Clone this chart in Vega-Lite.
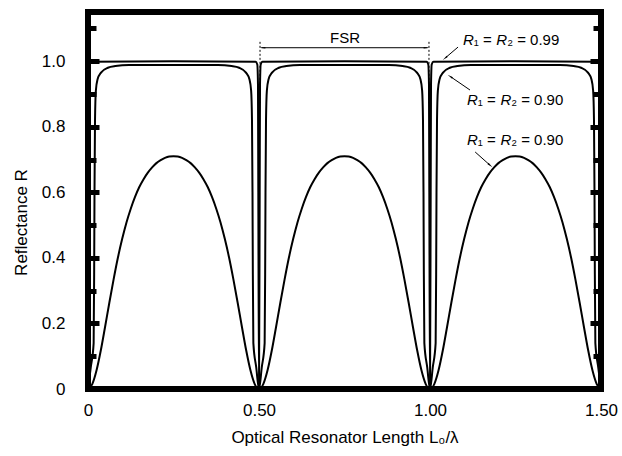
{
  "$schema": "https://vega.github.io/schema/vega-lite/v6.json",
  "width": 513,
  "height": 377,
  "autosize": "none",
  "padding": {"left": 88, "top": 12, "right": 21, "bottom": 67},
  "background": "white",
  "config": {
    "view": {"stroke": "black", "strokeWidth": 6},
    "font": "Liberation Sans",
    "axis": {"grid": false, "domain": false, "labelColor": "#000000", "titleColor": "#000000", "tickColor": "#000000", "labelFont": "Liberation Sans", "titleFont": "Liberation Sans, DejaVu Sans", "titleFontWeight": "normal"}
  },
  "datasets": {
    "curves": [
      {"x":0,"R":0,"c":"a"},{"x":0.002,"R":0.6,"c":"a"},{"x":0.003,"R":0.93,"c":"a"},{"x":0.005,"R":0.99,"c":"a"},{"x":0.01,"R":0.998,"c":"a"},{"x":0.25,"R":1,"c":"a"},{"x":0.49,"R":0.998,"c":"a"},{"x":0.495,"R":0.99,"c":"a"},{"x":0.497,"R":0.93,"c":"a"},{"x":0.498,"R":0.6,"c":"a"},{"x":0.5,"R":0,"c":"a"},{"x":0.502,"R":0.6,"c":"a"},{"x":0.503,"R":0.93,"c":"a"},{"x":0.505,"R":0.99,"c":"a"},{"x":0.51,"R":0.998,"c":"a"},{"x":0.75,"R":1,"c":"a"},{"x":0.99,"R":0.998,"c":"a"},{"x":0.995,"R":0.99,"c":"a"},{"x":0.997,"R":0.93,"c":"a"},{"x":0.998,"R":0.6,"c":"a"},{"x":1,"R":0,"c":"a"},{"x":1.002,"R":0.6,"c":"a"},{"x":1.003,"R":0.93,"c":"a"},{"x":1.005,"R":0.99,"c":"a"},{"x":1.01,"R":0.998,"c":"a"},{"x":1.25,"R":1,"c":"a"},{"x":1.49,"R":0.998,"c":"a"},{"x":1.495,"R":0.99,"c":"a"},{"x":1.497,"R":0.93,"c":"a"},{"x":1.498,"R":0.6,"c":"a"},{"x":1.5,"R":0,"c":"a"},

      {"x":0,"R":0,"c":"b"},{"x":0.008,"R":0.065,"c":"b"},{"x":0.0165,"R":0.14,"c":"b"},{"x":0.018,"R":0.35,"c":"b"},{"x":0.019,"R":0.6,"c":"b"},{"x":0.0205,"R":0.82,"c":"b"},{"x":0.023,"R":0.91,"c":"b"},{"x":0.028,"R":0.945,"c":"b"},{"x":0.038,"R":0.965,"c":"b"},{"x":0.058,"R":0.98,"c":"b"},{"x":0.08,"R":0.985,"c":"b"},{"x":0.12,"R":0.988,"c":"b"},{"x":0.25,"R":0.988,"c":"b"},
      {"x":0.38,"R":0.988,"c":"b"},{"x":0.42,"R":0.985,"c":"b"},{"x":0.442,"R":0.98,"c":"b"},{"x":0.462,"R":0.965,"c":"b"},{"x":0.472,"R":0.945,"c":"b"},{"x":0.477,"R":0.91,"c":"b"},{"x":0.4795,"R":0.82,"c":"b"},{"x":0.481,"R":0.6,"c":"b"},{"x":0.482,"R":0.35,"c":"b"},{"x":0.4835,"R":0.14,"c":"b"},{"x":0.492,"R":0.065,"c":"b"},{"x":0.5,"R":0,"c":"b"},
      {"x":0.508,"R":0.065,"c":"b"},{"x":0.5165,"R":0.14,"c":"b"},{"x":0.518,"R":0.35,"c":"b"},{"x":0.519,"R":0.6,"c":"b"},{"x":0.5205,"R":0.82,"c":"b"},{"x":0.523,"R":0.91,"c":"b"},{"x":0.528,"R":0.945,"c":"b"},{"x":0.538,"R":0.965,"c":"b"},{"x":0.558,"R":0.98,"c":"b"},{"x":0.58,"R":0.985,"c":"b"},{"x":0.62,"R":0.988,"c":"b"},{"x":0.75,"R":0.988,"c":"b"},
      {"x":0.88,"R":0.988,"c":"b"},{"x":0.92,"R":0.985,"c":"b"},{"x":0.942,"R":0.98,"c":"b"},{"x":0.962,"R":0.965,"c":"b"},{"x":0.972,"R":0.945,"c":"b"},{"x":0.977,"R":0.91,"c":"b"},{"x":0.9795,"R":0.82,"c":"b"},{"x":0.981,"R":0.6,"c":"b"},{"x":0.982,"R":0.35,"c":"b"},{"x":0.9835,"R":0.14,"c":"b"},{"x":0.992,"R":0.065,"c":"b"},{"x":1.0,"R":0,"c":"b"},
      {"x":1.008,"R":0.065,"c":"b"},{"x":1.0165,"R":0.14,"c":"b"},{"x":1.018,"R":0.35,"c":"b"},{"x":1.019,"R":0.6,"c":"b"},{"x":1.0205,"R":0.82,"c":"b"},{"x":1.023,"R":0.91,"c":"b"},{"x":1.028,"R":0.945,"c":"b"},{"x":1.038,"R":0.965,"c":"b"},{"x":1.058,"R":0.98,"c":"b"},{"x":1.08,"R":0.985,"c":"b"},{"x":1.12,"R":0.988,"c":"b"},{"x":1.25,"R":0.988,"c":"b"},
      {"x":1.38,"R":0.988,"c":"b"},{"x":1.42,"R":0.985,"c":"b"},{"x":1.442,"R":0.98,"c":"b"},{"x":1.462,"R":0.965,"c":"b"},{"x":1.472,"R":0.945,"c":"b"},{"x":1.477,"R":0.91,"c":"b"},{"x":1.4795,"R":0.82,"c":"b"},{"x":1.481,"R":0.6,"c":"b"},{"x":1.482,"R":0.35,"c":"b"},{"x":1.4835,"R":0.14,"c":"b"},{"x":1.492,"R":0.065,"c":"b"},{"x":1.5,"R":0,"c":"b"},

      {"x":0,"R":0,"c":"c"},{"x":0.0125,"R":0.015,"c":"c"},{"x":0.025,"R":0.057,"c":"c"},{"x":0.0375,"R":0.118,"c":"c"},{"x":0.05,"R":0.19,"c":"c"},{"x":0.0625,"R":0.264,"c":"c"},{"x":0.075,"R":0.335,"c":"c"},{"x":0.0875,"R":0.401,"c":"c"},{"x":0.1,"R":0.458,"c":"c"},{"x":0.1125,"R":0.508,"c":"c"},{"x":0.125,"R":0.55,"c":"c"},{"x":0.1375,"R":0.586,"c":"c"},{"x":0.15,"R":0.616,"c":"c"},{"x":0.1625,"R":0.64,"c":"c"},{"x":0.175,"R":0.66,"c":"c"},{"x":0.1875,"R":0.676,"c":"c"},{"x":0.2,"R":0.689,"c":"c"},{"x":0.2125,"R":0.698,"c":"c"},{"x":0.225,"R":0.705,"c":"c"},{"x":0.2375,"R":0.709,"c":"c"},{"x":0.25,"R":0.71,"c":"c"},{"x":0.2625,"R":0.709,"c":"c"},{"x":0.275,"R":0.705,"c":"c"},{"x":0.2875,"R":0.698,"c":"c"},{"x":0.3,"R":0.689,"c":"c"},{"x":0.3125,"R":0.676,"c":"c"},{"x":0.325,"R":0.66,"c":"c"},{"x":0.3375,"R":0.64,"c":"c"},{"x":0.35,"R":0.616,"c":"c"},{"x":0.3625,"R":0.586,"c":"c"},{"x":0.375,"R":0.55,"c":"c"},{"x":0.3875,"R":0.508,"c":"c"},{"x":0.4,"R":0.458,"c":"c"},{"x":0.4125,"R":0.401,"c":"c"},{"x":0.425,"R":0.335,"c":"c"},{"x":0.4375,"R":0.264,"c":"c"},{"x":0.45,"R":0.19,"c":"c"},{"x":0.4625,"R":0.118,"c":"c"},{"x":0.475,"R":0.057,"c":"c"},{"x":0.4875,"R":0.015,"c":"c"},{"x":0.5,"R":0,"c":"c"},
      {"x":0.5125,"R":0.015,"c":"c"},{"x":0.525,"R":0.057,"c":"c"},{"x":0.5375,"R":0.118,"c":"c"},{"x":0.55,"R":0.19,"c":"c"},{"x":0.5625,"R":0.264,"c":"c"},{"x":0.575,"R":0.335,"c":"c"},{"x":0.5875,"R":0.401,"c":"c"},{"x":0.6,"R":0.458,"c":"c"},{"x":0.6125,"R":0.508,"c":"c"},{"x":0.625,"R":0.55,"c":"c"},{"x":0.6375,"R":0.586,"c":"c"},{"x":0.65,"R":0.616,"c":"c"},{"x":0.6625,"R":0.64,"c":"c"},{"x":0.675,"R":0.66,"c":"c"},{"x":0.6875,"R":0.676,"c":"c"},{"x":0.7,"R":0.689,"c":"c"},{"x":0.7125,"R":0.698,"c":"c"},{"x":0.725,"R":0.705,"c":"c"},{"x":0.7375,"R":0.709,"c":"c"},{"x":0.75,"R":0.71,"c":"c"},{"x":0.7625,"R":0.709,"c":"c"},{"x":0.775,"R":0.705,"c":"c"},{"x":0.7875,"R":0.698,"c":"c"},{"x":0.8,"R":0.689,"c":"c"},{"x":0.8125,"R":0.676,"c":"c"},{"x":0.825,"R":0.66,"c":"c"},{"x":0.8375,"R":0.64,"c":"c"},{"x":0.85,"R":0.616,"c":"c"},{"x":0.8625,"R":0.586,"c":"c"},{"x":0.875,"R":0.55,"c":"c"},{"x":0.8875,"R":0.508,"c":"c"},{"x":0.9,"R":0.458,"c":"c"},{"x":0.9125,"R":0.401,"c":"c"},{"x":0.925,"R":0.335,"c":"c"},{"x":0.9375,"R":0.264,"c":"c"},{"x":0.95,"R":0.19,"c":"c"},{"x":0.9625,"R":0.118,"c":"c"},{"x":0.975,"R":0.057,"c":"c"},{"x":0.9875,"R":0.015,"c":"c"},{"x":1.0,"R":0,"c":"c"},
      {"x":1.0125,"R":0.015,"c":"c"},{"x":1.025,"R":0.057,"c":"c"},{"x":1.0375,"R":0.118,"c":"c"},{"x":1.05,"R":0.19,"c":"c"},{"x":1.0625,"R":0.264,"c":"c"},{"x":1.075,"R":0.335,"c":"c"},{"x":1.0875,"R":0.401,"c":"c"},{"x":1.1,"R":0.458,"c":"c"},{"x":1.1125,"R":0.508,"c":"c"},{"x":1.125,"R":0.55,"c":"c"},{"x":1.1375,"R":0.586,"c":"c"},{"x":1.15,"R":0.616,"c":"c"},{"x":1.1625,"R":0.64,"c":"c"},{"x":1.175,"R":0.66,"c":"c"},{"x":1.1875,"R":0.676,"c":"c"},{"x":1.2,"R":0.689,"c":"c"},{"x":1.2125,"R":0.698,"c":"c"},{"x":1.225,"R":0.705,"c":"c"},{"x":1.2375,"R":0.709,"c":"c"},{"x":1.25,"R":0.71,"c":"c"},{"x":1.2625,"R":0.709,"c":"c"},{"x":1.275,"R":0.705,"c":"c"},{"x":1.2875,"R":0.698,"c":"c"},{"x":1.3,"R":0.689,"c":"c"},{"x":1.3125,"R":0.676,"c":"c"},{"x":1.325,"R":0.66,"c":"c"},{"x":1.3375,"R":0.64,"c":"c"},{"x":1.35,"R":0.616,"c":"c"},{"x":1.3625,"R":0.586,"c":"c"},{"x":1.375,"R":0.55,"c":"c"},{"x":1.3875,"R":0.508,"c":"c"},{"x":1.4,"R":0.458,"c":"c"},{"x":1.4125,"R":0.401,"c":"c"},{"x":1.425,"R":0.335,"c":"c"},{"x":1.4375,"R":0.264,"c":"c"},{"x":1.45,"R":0.19,"c":"c"},{"x":1.4625,"R":0.118,"c":"c"},{"x":1.475,"R":0.057,"c":"c"},{"x":1.4875,"R":0.015,"c":"c"},{"x":1.5,"R":0,"c":"c"}
    ],
    "dashes": [
      {"x":0.503,"y":1.059,"y2":0.873},
      {"x":0.997,"y":1.059,"y2":0.873}
    ],
    "shafts": [
      {"x":0.507,"y":1.041,"x2":0.993,"y2":1.041},
      {"x":1.082,"y":1.043,"x2":1.046,"y2":1.011},
      {"x":1.117,"y":0.912,"x2":1.061,"y2":0.952},
      {"x":1.132,"y":0.723,"x2":1.174,"y2":0.684}
    ],
    "heads": [
      {"x":0.513,"y":1.041,"a":270},
      {"x":0.987,"y":1.041,"a":90},
      {"x":1.046,"y":1.011,"a":229},
      {"x":1.061,"y":0.952,"a":304},
      {"x":1.174,"y":0.684,"a":131}
    ],
    "italic": [
      {"x":1.0965,"y":1.049,"t":"R"},{"x":1.194,"y":1.049,"t":"R"},
      {"x":1.1082,"y":0.866,"t":"R"},{"x":1.2058,"y":0.866,"t":"R"},
      {"x":1.1082,"y":0.744,"t":"R"},{"x":1.2058,"y":0.744,"t":"R"}
    ],
    "upright": [
      {"x":0.7076,"y":1.055,"t":"FSR"},
      {"x":1.128,"y":1.049,"t":"₁ ="},{"x":1.2257,"y":1.049,"t":"₂ = 0.99"},
      {"x":1.1398,"y":0.866,"t":"₁ ="},{"x":1.2374,"y":0.866,"t":"₂ = 0.90"},
      {"x":1.1398,"y":0.744,"t":"₁ ="},{"x":1.2374,"y":0.744,"t":"₂ = 0.90"}
    ]
  },
  "layer": [
    {
      "data": {"name": "curves"},
      "mark": {"type": "line", "clip": true, "color": "black", "strokeWidth": 2, "interpolate": "monotone"},
      "encoding": {
        "x": {"field": "x", "type": "quantitative", "title": "Optical Resonator Length L₀/λ",
          "scale": {"domain": [0, 1.5], "nice": false, "zero": false},
          "axis": {"values": [0, 0.5, 1, 1.5], "labelExpr": "datum.value == 0 ? '0' : format(datum.value, '.2f')", "ticks": false, "labelFontSize": 17, "labelPadding": 13, "labelFlush": false, "labelOverlap": false, "labelBound": false, "titleFontSize": 17, "titlePadding": 11, "titleColor": "#000000"}},
        "y": {"field": "R", "type": "quantitative", "title": "Reflectance R",
          "scale": {"domain": [0, 1.15], "nice": false, "zero": false},
          "axis": {"orient": "left", "values": [0, 0.1, 0.2, 0.3, 0.4, 0.5, 0.6, 0.7, 0.8, 0.9, 1.0, 1.1],
            "labelExpr": "datum.value == 0 ? '0' : ((round(datum.value*10) % 2 == 0 && datum.value < 1.05) ? format(datum.value, '.1f') : '')",
            "tickSize": {"condition": {"test": "round(datum.value*10) % 2 == 0", "value": -11}, "value": -8},
            "tickWidth": 5, "labelPadding": 34, "labelFontSize": 17, "labelFlush": false, "labelOverlap": false, "labelBound": false, "titleFontSize": 17, "titlePadding": 11, "titleY": 210, "titleColor": "#000000"}},
        "detail": {"field": "c"}
      }
    },
    {
      "data": {"name": "dashes"},
      "mark": {"type": "rule", "color": "black", "strokeWidth": 1, "strokeDash": [2, 2]},
      "encoding": {
        "x": {"field": "x", "type": "quantitative", "title": "Optical Resonator Length L₀/λ", "scale": {"domain": [0, 1.5], "nice": false, "zero": false}},
        "y": {"field": "y", "type": "quantitative", "scale": {"domain": [0, 1.15], "nice": false, "zero": false},
          "axis": {"orient": "right", "title": null, "labels": false, "values": [0, 0.1, 0.2, 0.3, 0.4, 0.5, 0.6, 0.7, 0.8, 0.9, 1.0, 1.1],
            "tickSize": {"condition": {"test": "round(datum.value*10) % 2 == 0", "value": -11}, "value": -8}, "tickWidth": 5}},
        "y2": {"field": "y2"}
      }
    },
    {
      "data": {"name": "shafts"},
      "mark": {"type": "rule", "color": "black", "strokeWidth": 1},
      "encoding": {
        "x": {"field": "x", "type": "quantitative", "title": "Optical Resonator Length L₀/λ", "scale": {"domain": [0, 1.5], "nice": false, "zero": false}},
        "x2": {"field": "x2"},
        "y": {"field": "y", "type": "quantitative", "scale": {"domain": [0, 1.15], "nice": false, "zero": false}, "axis": null},
        "y2": {"field": "y2"}
      }
    },
    {
      "data": {"name": "heads"},
      "mark": {"type": "point", "shape": "wedge", "filled": true, "color": "black", "opacity": 1, "size": 45},
      "encoding": {
        "x": {"field": "x", "type": "quantitative", "title": "Optical Resonator Length L₀/λ", "scale": {"domain": [0, 1.5], "nice": false, "zero": false}},
        "y": {"field": "y", "type": "quantitative", "scale": {"domain": [0, 1.15], "nice": false, "zero": false}, "axis": null},
        "angle": {"field": "a", "type": "quantitative", "scale": null}
      }
    },
    {
      "data": {"name": "italic"},
      "mark": {"type": "text", "color": "black", "fontSize": 15, "fontStyle": "italic", "font": "Liberation Sans", "align": "left", "baseline": "alphabetic"},
      "encoding": {
        "x": {"field": "x", "type": "quantitative", "title": "Optical Resonator Length L₀/λ", "scale": {"domain": [0, 1.5], "nice": false, "zero": false}},
        "y": {"field": "y", "type": "quantitative", "scale": {"domain": [0, 1.15], "nice": false, "zero": false}, "axis": null},
        "text": {"field": "t"}
      }
    },
    {
      "data": {"name": "upright"},
      "mark": {"type": "text", "color": "black", "fontSize": 15, "font": "Liberation Sans, DejaVu Sans", "align": "left", "baseline": "alphabetic"},
      "encoding": {
        "x": {"field": "x", "type": "quantitative", "title": "Optical Resonator Length L₀/λ", "scale": {"domain": [0, 1.5], "nice": false, "zero": false}},
        "y": {"field": "y", "type": "quantitative", "scale": {"domain": [0, 1.15], "nice": false, "zero": false}, "axis": null},
        "text": {"field": "t"}
      }
    }
  ],
  "resolve": {"axis": {"y": "independent"}}
}
